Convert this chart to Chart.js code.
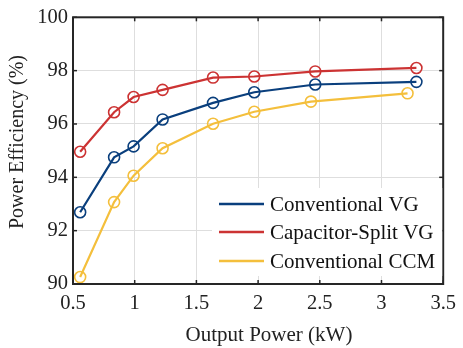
<!DOCTYPE html>
<html>
<head>
<meta charset="utf-8">
<script src="https://cdn.jsdelivr.net/npm/chart.js@4"></script>
<style>
html,body{margin:0;padding:0;background:#fff;}
#wrap{width:463px;height:348px;}
</style>
</head>
<body>
<div id="wrap"><canvas id="c" width="463" height="348"></canvas></div>
<script>
const seriesLabels = ["Conventional VG", "Capacitor-Split VG", "Conventional CCM"];
const vgX = [0.558, 0.833, 0.991, 1.226, 1.635, 1.969, 2.463, 3.283];
const vgY = [92.69, 94.75, 95.16, 96.17, 96.79, 97.19, 97.48, 97.58];
const csX = [0.558, 0.833, 0.991, 1.226, 1.635, 1.969, 2.463, 3.283];
const csY = [94.96, 96.44, 97.01, 97.28, 97.74, 97.78, 97.97, 98.10];
const ccmX = [0.558, 0.833, 0.991, 1.226, 1.635, 1.969, 2.428, 3.211];
const ccmY = [90.26, 93.07, 94.06, 95.09, 96.01, 96.46, 96.84, 97.15];
const xTicks = [0.5, 1, 1.5, 2, 2.5, 3, 3.5];
const yTicks = [90, 92, 94, 96, 98, 100];
const xTitle = "Output Power (kW)";
const yTitle = "Power Efficiency (%)";
const colors = ["#0a3f7d", "#cc3333", "#f4bf3c"];

function pts(xs, ys){ return xs.map((x,i)=>({x:x, y:ys[i]})); }
const FONT = "'Liberation Serif', 'Times New Roman', serif";

function ds(i, xs, ys){
  return {label: seriesLabels[i], data: pts(xs, ys), borderColor: colors[i], backgroundColor: 'rgba(0,0,0,0)',
    borderWidth: 2.2, pointRadius: 5.5, pointBorderWidth: 1.6, pointBackgroundColor: 'rgba(0,0,0,0)',
    pointBorderColor: colors[i], tension: 0, showLine: true};
}

const framePlugin = {
  id: 'frame',
  afterDraw(chart){
    const ctx = chart.ctx, a = chart.chartArea;
    const xs = chart.scales.x, ys = chart.scales.y;
    ctx.save();
    ctx.strokeStyle = '#262626'; ctx.lineWidth = 2;
    ctx.strokeRect(a.left, a.top, a.right - a.left, a.bottom - a.top);
    ctx.lineWidth = 1.5;
    const tl = 4;
    xTicks.forEach(v=>{ const p = xs.getPixelForValue(v);
      ctx.beginPath(); ctx.moveTo(p, a.bottom); ctx.lineTo(p, a.bottom - tl); ctx.stroke();
      ctx.beginPath(); ctx.moveTo(p, a.top); ctx.lineTo(p, a.top + tl); ctx.stroke(); });
    yTicks.forEach(v=>{ const p = ys.getPixelForValue(v);
      ctx.beginPath(); ctx.moveTo(a.left, p); ctx.lineTo(a.left + tl, p); ctx.stroke();
      ctx.beginPath(); ctx.moveTo(a.right, p); ctx.lineTo(a.right - tl, p); ctx.stroke(); });
    // axis titles
    ctx.fillStyle = '#222'; ctx.textAlign = 'center'; ctx.textBaseline = 'middle';
    ctx.font = "21px " + FONT;
    ctx.fillText(xTitle, 269, 335);
    ctx.save();
    ctx.translate(18, 142); ctx.rotate(-Math.PI/2);
    ctx.font = "20px " + FONT;
    ctx.fillText(yTitle, 0, 0);
    ctx.restore();
    // legend
    const lx0 = 219, lx1 = 264, tx = 270, ly = [204, 232, 261];
    ctx.fillStyle = '#fff';
    ctx.fillRect(212, 188, a.right - 213, 88);
    chart.data.datasets.forEach((d, i)=>{
      ctx.strokeStyle = d.borderColor; ctx.lineWidth = 2.5;
      ctx.beginPath(); ctx.moveTo(lx0, ly[i]); ctx.lineTo(lx1, ly[i]); ctx.stroke();
      ctx.fillStyle = '#111'; ctx.font = "21px " + FONT; ctx.textBaseline = 'middle'; ctx.textAlign = 'left';
      ctx.fillText(d.label, tx, ly[i] + 1);
    });
    ctx.restore();
  }
};

new Chart(document.getElementById('c'), {
  type: 'scatter',
  data: { datasets: [ds(0, vgX, vgY), ds(1, csX, csY), ds(2, ccmX, ccmY)] },
  options: {
    responsive: false, animation: false, devicePixelRatio: 1,
    layout: { padding: { top: 14, right: 16, left: 0, bottom: 0 } },
    plugins: { legend: { display: false }, tooltip: { enabled: false } },
    scales: {
      x: { type: 'linear', min: 0.5, max: 3.5,
        afterBuildTicks(s){ s.ticks = xTicks.map(v=>({value:v})); },
        afterFit(s){ s.height = 64; },
        grid: { color: '#dedede', lineWidth: 1, drawTicks: false },
        border: { display: false },
        ticks: { color: '#222', padding: 7, font: { family: FONT, size: 20.5 }, callback: v => String(v) },
        title: { display: false } },
      y: { type: 'linear', min: 90, max: 100,
        afterBuildTicks(s){ s.ticks = yTicks.map(v=>({value:v})); },
        afterFit(s){ s.width = 73; },
        grid: { color: '#dedede', lineWidth: 1, drawTicks: false },
        border: { display: false },
        ticks: { color: '#222', padding: 5, font: { family: FONT, size: 20.5 }, callback: v => String(v) },
        title: { display: false } }
    }
  },
  plugins: [framePlugin]
});
</script>
</body>
</html>
